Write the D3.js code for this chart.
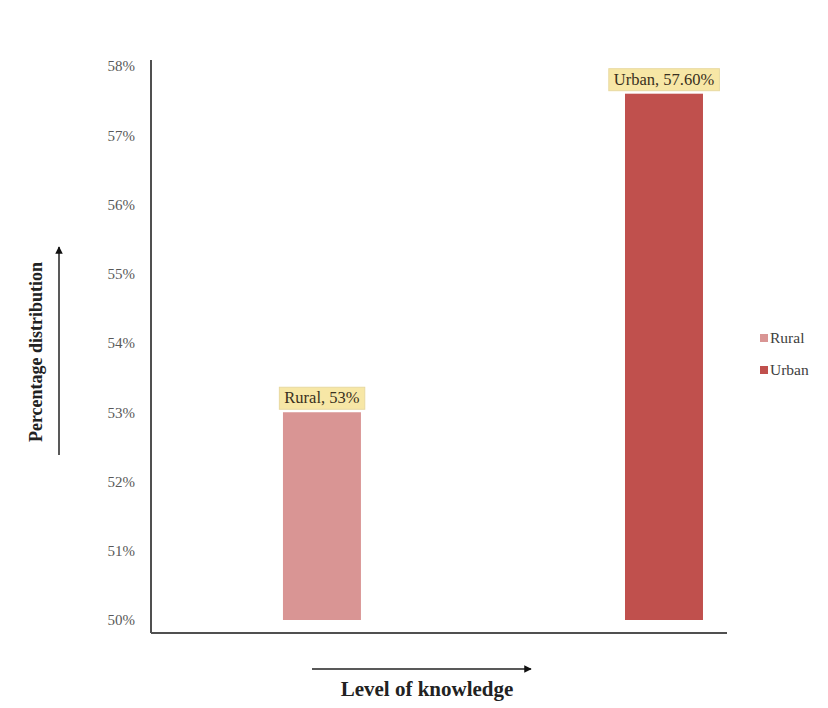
<!DOCTYPE html>
<html><head><meta charset="utf-8">
<script src="https://cdn.jsdelivr.net/npm/d3@7"></script>
<style>body{margin:0;background:#fff}svg{display:block}</style>
</head><body>
<svg id="c" width="828" height="708"></svg>
<script>
const categories = ["Rural", "Urban"];
const values = [53, 57.6];
const labels = ["Rural, 53%", "Urban, 57.60%"];
const colors = ["#d99594", "#c0504d"];
const yTicks = [50, 51, 52, 53, 54, 55, 56, 57, 58];

const svg = d3.select("#c");
const font = "'Liberation Serif','Times New Roman',serif";
const m = {left:151, top:66, right:727, bottom:620};

const x = d3.scaleBand().domain(categories).range([m.left, m.right])
  .paddingInner(0.772).paddingOuter(0.228).align(0.846);
const y = d3.scaleLinear().domain([50, 58]).range([m.bottom, m.top]);

// bars
svg.selectAll("rect.bar").data(categories).enter().append("rect")
  .attr("x", d => x(d)).attr("width", x.bandwidth())
  .attr("y", (d,i) => y(values[i])).attr("height", (d,i) => y(50) - y(values[i]))
  .attr("fill", (d,i) => colors[i]);

// y axis
const ya = svg.append("g").attr("transform", `translate(${m.left},0)`)
  .call(d3.axisLeft(y).tickValues(yTicks).tickSize(0).tickPadding(16).tickFormat(d => d + "%"));
ya.select(".domain").remove();
ya.selectAll("text").attr("font-family", font).attr("font-size", 15).attr("fill", "#595959");

// axis lines
svg.append("line").attr("x1", m.left).attr("x2", m.left).attr("y1", 60).attr("y2", 633)
  .attr("stroke", "#505050").attr("stroke-width", 2);
svg.append("line").attr("x1", m.left).attr("x2", m.right).attr("y1", 633).attr("y2", 633)
  .attr("stroke", "#505050").attr("stroke-width", 2);

// data labels
categories.forEach((c, i) => {
  const cx = x(c) + x.bandwidth()/2;
  const ty = y(values[i]) - 9;
  const t = svg.append("text").attr("x", cx).attr("y", ty).attr("text-anchor", "middle")
    .attr("font-family", font).attr("font-size", 16.5).attr("fill", "#3a3020").text(labels[i]);
  const bb = t.node().getBBox();
  svg.insert("rect", () => t.node())
    .attr("x", bb.x - 5).attr("y", bb.y - 1).attr("width", bb.width + 10).attr("height", bb.height + 3)
    .attr("fill", "#f7e7a6").attr("stroke", "#e8d9a0").attr("stroke-width", 1);
});

// legend
categories.forEach((c, i) => {
  const ly = 339 + i * 32;
  svg.append("rect").attr("x", 760).attr("y", ly - 5).attr("width", 8).attr("height", 8).attr("fill", colors[i]);
  svg.append("text").attr("x", 770).attr("y", ly + 4).attr("font-family", font).attr("font-size", 15.5)
    .attr("fill", "#404040").text(c);
});

// arrow marker
svg.append("defs").append("marker").attr("id", "ah").attr("viewBox", "0 0 10 10")
  .attr("refX", 9).attr("refY", 5).attr("markerWidth", 5).attr("markerHeight", 5).attr("orient", "auto")
  .append("path").attr("d", "M0,0L10,5L0,10z").attr("fill", "#111");

// y title + arrow
svg.append("text").attr("transform", "translate(42,352) rotate(-90)").attr("text-anchor", "middle")
  .attr("font-family", font).attr("font-size", 18).attr("font-weight", "bold").attr("fill", "#222")
  .text("Percentage distribution");
svg.append("line").attr("x1", 59).attr("x2", 59).attr("y1", 455).attr("y2", 247)
  .attr("stroke", "#222").attr("stroke-width", 1.5).attr("marker-end", "url(#ah)");

// x title + arrow
svg.append("text").attr("x", 427).attr("y", 696).attr("text-anchor", "middle")
  .attr("font-family", font).attr("font-size", 21).attr("font-weight", "bold").attr("fill", "#222")
  .text("Level of knowledge");
svg.append("line").attr("x1", 312).attr("x2", 531).attr("y1", 669).attr("y2", 669)
  .attr("stroke", "#222").attr("stroke-width", 1.5).attr("marker-end", "url(#ah)");
</script>
</body></html>
